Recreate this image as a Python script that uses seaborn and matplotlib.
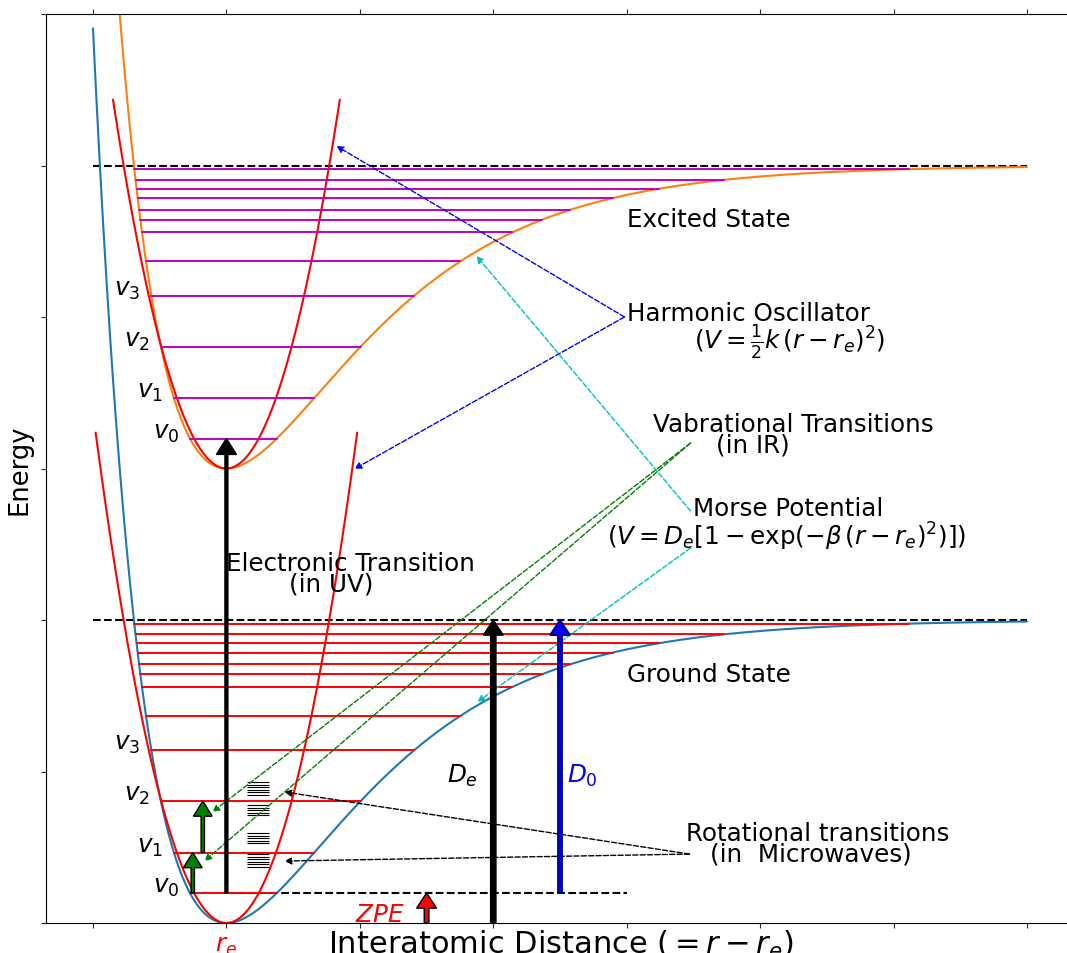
import numpy as np
import matplotlib
matplotlib.use("Agg")
import matplotlib.pyplot as plt
import seaborn as sns

sns.set_style("ticks")
plt.rcParams["font.family"] = ["DejaVu Sans"]
plt.rcParams["mathtext.fontset"] = "dejavusans"
plt.rcParams["text.color"] = "k"
plt.rcParams["axes.labelcolor"] = "k"

# potential parameters
De = 2.0          # well depth of both states
beta = 1.0
k_harm = 3.37     # curvature of the drawn harmonic parabolas
T_exc = 3.0       # minimum of the excited state

# vibrational ladder (same in both states)
levels = [0.198, 0.465, 0.805, 1.14, 1.367, 1.558, 1.641, 1.708, 1.785, 1.847, 1.905, 1.976]
level_names = ["$v_0$", "$v_1$", "$v_2$", "$v_3$"]

# rotational sub-levels (short black lines)
rot_levels = [0.930, 0.913, 0.896, 0.879, 0.862, 0.845,
              0.779, 0.762, 0.745, 0.728, 0.711,
              0.594, 0.577, 0.560, 0.543, 0.526,
              0.455, 0.438, 0.421, 0.404, 0.387, 0.370]
rot_span = (0.157, 0.322)

harm_ground_span = (-0.98, 0.98)
harm_exc_span = (-0.85, 0.85)

r = np.linspace(-1, 6, 1400)


def morse(x):
    return De * (1 - np.exp(-beta * x)) ** 2


def turning(E):
    s = np.sqrt(E / De)
    return -np.log(1 + s) / beta, -np.log(1 - s) / beta


fig = plt.figure(figsize=(10.67, 9.54), dpi=100)
ax = fig.add_axes([46 / 1067, 30 / 954, 1030.4 / 1067, 909 / 954])

# potential curves
sns.lineplot(x=r, y=morse(r), color="C0", lw=1.5, ax=ax)
sns.lineplot(x=r, y=T_exc + morse(r), color="C1", lw=1.5, ax=ax)
xg = np.linspace(*harm_ground_span, 300)
xe = np.linspace(*harm_exc_span, 300)
sns.lineplot(x=xg, y=k_harm * xg ** 2, color="r", lw=1.5, ax=ax)
sns.lineplot(x=xe, y=T_exc + k_harm * xe ** 2, color="r", lw=1.5, ax=ax)

# dissociation limits and ZPE line
ax.hlines([De, T_exc + De], -1, 6, colors="k", linestyles="--", lw=1.5, zorder=1)
ax.hlines(levels[0], 0, 3, colors="k", linestyles="--", lw=1.5, zorder=1)

# vibrational levels
for i, E in enumerate(levels):
    xl, xr = turning(E)
    ax.plot([xl, xr], [E, E], color="r", lw=1.4, zorder=2)
    ax.plot([xl, xr], [T_exc + E, T_exc + E], color="m", lw=1.4, zorder=2)
    if i < len(level_names):
        for off in (0, T_exc):
            ax.text(xl - 0.08, off + E + 0.045, level_names[i], fontsize=17.7,
                    ha="right", va="center")

# rotational levels
ax.hlines(rot_levels, *rot_span, colors="k", lw=0.8)

# transition arrows
arrow_kw = dict(length_includes_head=True, zorder=6)
ax.arrow(0, levels[0], 0, T_exc, width=0.022, lw=1,
         head_width=0.15, head_length=0.105, fc="k", ec="k", **arrow_kw)
ax.arrow(2, 0, 0, De, width=0.04, head_width=0.15, head_length=0.1,
         fc="k", ec="k", lw=1, **arrow_kw)
ax.arrow(2.5, levels[0], 0, De - levels[0], width=0.03, head_width=0.15,
         head_length=0.1, fc="b", ec="navy", lw=1.3, **arrow_kw)
ax.arrow(1.5, 0, 0, levels[0], width=0.035, head_width=0.15, head_length=0.1,
         fc="r", ec="k", lw=1, **arrow_kw)
ax.arrow(-0.252, levels[0], 0, levels[1] - levels[0], width=0.025,
         head_width=0.14, head_length=0.1, fc="g", ec="k", lw=1, **arrow_kw)
ax.arrow(-0.177, levels[1], 0, levels[2] - levels[1], width=0.025,
         head_width=0.14, head_length=0.1, fc="g", ec="k", lw=1, **arrow_kw)


def pointer(start, tip, color):
    ax.annotate("", xy=tip, xytext=start,
                arrowprops=dict(arrowstyle="-|>", linestyle="--", color=color,
                                lw=1, shrinkA=0, shrinkB=0, mutation_scale=10))


# Harmonic oscillator pointers
pointer((2.983, 4.0), (0.824, 5.129), "b")
pointer((2.983, 4.0), (0.959, 2.997), "b")
# vibrational transitions
pointer((3.478, 3.168), (-0.105, 0.733), "g")
pointer((3.478, 3.168), (-0.165, 0.409), "g")
# Morse potential
pointer((3.478, 2.72), (1.874, 4.403), "c")
pointer((3.478, 2.475), (1.881, 1.459), "c")
# rotational transitions
pointer((3.47, 0.455), (0.435, 0.865), "k")
pointer((3.47, 0.455), (0.435, 0.409), "k")

fs = 17.7
ax.text(3.0, 4.6, "Excited State", fontsize=fs)
ax.text(3.0, 1.6, "Ground State", fontsize=fs)
ax.text(3.0, 3.98, "Harmonic Oscillator", fontsize=fs)
ax.text(3.507, 3.84, r"$(V=\frac{1}{2}k\,(r-r_e)^2)$", fontsize=fs, va="center")
ax.text(3.2, 3.25, "Vabrational Transitions", fontsize=fs)
ax.text(3.672, 3.115, "(in IR)", fontsize=fs)
ax.text(3.5, 2.69, "Morse Potential", fontsize=fs)
ax.text(2.855, 2.554, r"$(V=D_e[1-\exp(-\beta\,(r-r_e)^2)])$", fontsize=fs, va="center")
ax.text(0.0, 2.333, "Electronic Transition", fontsize=fs)
ax.text(0.472, 2.198, "(in UV)", fontsize=fs)
ax.text(3.447, 0.545, "Rotational transitions", fontsize=fs)
ax.text(3.627, 0.41, "(in  Microwaves)", fontsize=fs)
ax.text(1.65, 0.977, "$D_e$", fontsize=fs, va="center")
ax.text(2.55, 0.977, "$D_0$", fontsize=fs, va="center", color="b")
ax.text(0.96, 0.06, "$ZPE$", fontsize=fs, va="center", color="r")
ax.text(0, -0.145, "$r_e$", fontsize=fs, va="center", ha="center", color="r",
        clip_on=False)

ax.set_xlim(-1.352, 6.37)
ax.set_ylim(0, 6)
ax.set_xticks(np.arange(-1, 7))
ax.set_yticks(np.arange(0, 7))
ax.tick_params(top=True, labelbottom=False, labelleft=False, direction="out")
for s in ax.spines.values():
    s.set_color("k")
ax.set_xlabel(r"Interatomic Distance ($=r-r_e$)", fontsize=22, labelpad=0)
ax.set_ylabel("Energy", fontsize=18.5, labelpad=6)

fig.savefig("out.png", dpi=100)
